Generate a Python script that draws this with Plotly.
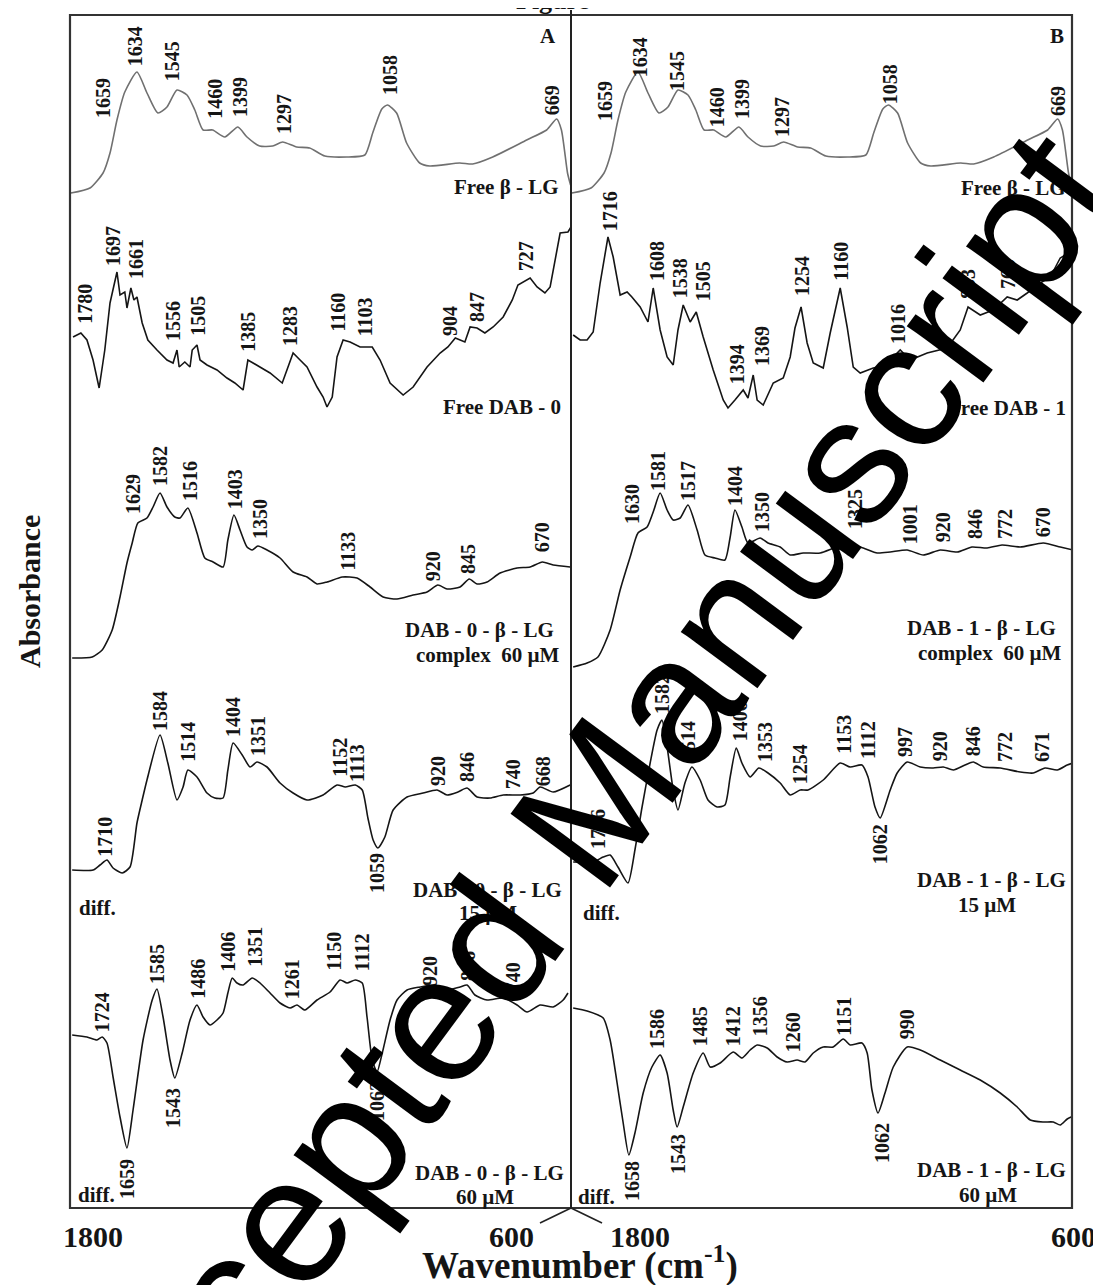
import plotly.graph_objects as go

SERIF = "Liberation Serif"
INK = "#151515"

# ---------------- spectra: wavenumber (cm-1) and absorbance (a.u. above each trace's baseline)
lg_wn = [1786, 1742, 1712, 1696, 1680, 1662, 1634, 1611, 1586, 1565, 1542, 1519, 1501, 1482,
         1460, 1432, 1402, 1381, 1352, 1322, 1299, 1267, 1237, 1202, 1152, 1110, 1092, 1071,
         1058, 1037, 1014, 984, 961, 892, 862, 816, 738, 692, 669, 658, 644, 637]
lg_ab = [0.07, 0.12, 0.27, 0.47, 0.80, 1.08, 1.28, 1.07, 0.87, 0.93, 1.10, 1.05, 0.90, 0.70,
         0.70, 0.63, 0.73, 0.63, 0.54, 0.54, 0.58, 0.53, 0.52, 0.44, 0.43, 0.45, 0.67, 0.91,
         0.95, 0.87, 0.57, 0.37, 0.34, 0.37, 0.36, 0.43, 0.60, 0.70, 0.81, 0.70, 0.27, 0.15]

dab0_wn = [1781, 1763, 1749, 1735, 1721, 1708, 1696, 1680, 1673, 1662, 1657, 1648, 1641, 1634,
           1622, 1609, 1588, 1565, 1551, 1542, 1537, 1524, 1512, 1507, 1496, 1489, 1473, 1450,
           1427, 1409, 1390, 1379, 1367, 1351, 1328, 1300, 1275, 1259, 1243, 1220, 1206, 1197,
           1185, 1174, 1160, 1144, 1121, 1093, 1075, 1052, 1022, 999, 967, 937, 919, 902, 880,
           868, 852, 834, 815, 792, 771, 758, 730, 714, 696, 684, 668, 661, 643, 636]
dab0_ab = [0.63, 0.67, 0.60, 0.40, 0.12, 0.50, 0.97, 1.28, 1.05, 1.08, 0.92, 1.12, 1.00, 1.03,
           0.77, 0.60, 0.50, 0.40, 0.37, 0.50, 0.33, 0.38, 0.33, 0.50, 0.55, 0.40, 0.35, 0.30,
           0.22, 0.17, 0.10, 0.40, 0.37, 0.33, 0.27, 0.17, 0.47, 0.40, 0.33, 0.13, 0.03, -0.07,
           0.03, 0.43, 0.60, 0.58, 0.53, 0.53, 0.40, 0.17, 0.05, 0.13, 0.33, 0.47, 0.53, 0.62, 0.58,
           0.73, 0.72, 0.67, 0.73, 0.83, 1.00, 1.15, 1.22, 1.13, 1.07, 1.13, 1.53, 1.67, 1.68, 1.73]

dab1_wn = [1783, 1767, 1751, 1737, 1721, 1703, 1691, 1675, 1659, 1648, 1629, 1611, 1599, 1583,
           1567, 1553, 1542, 1530, 1514, 1500, 1484, 1461, 1438, 1427, 1411, 1392, 1381, 1369,
           1360, 1346, 1323, 1300, 1284, 1273, 1259, 1245, 1231, 1208, 1192, 1169, 1153, 1139,
           1123, 1093, 1061, 1047, 1031, 1008, 969, 923, 893, 875, 847, 817, 785, 762, 739, 709,
           686, 663, 640]
dab1_ab = [0.65, 0.60, 0.60, 0.68, 1.17, 1.63, 1.43, 1.05, 1.08, 1.03, 0.93, 0.78, 1.12, 0.70,
           0.43, 0.35, 0.70, 0.95, 0.78, 0.88, 0.63, 0.30, 0.00, -0.08, 0.00, 0.10, 0.02, 0.25,
           0.00, -0.05, 0.17, 0.22, 0.43, 0.72, 0.93, 0.57, 0.37, 0.32, 0.67, 1.12, 0.73, 0.33,
           0.27, 0.32, 0.35, 0.43, 0.50, 0.40, 0.47, 0.52, 0.70, 0.93, 0.85, 0.90, 1.03, 1.00, 1.07,
           1.17, 1.23, 1.42, 1.48]

cx0_wn = [1783, 1737, 1714, 1691, 1673, 1657, 1645, 1632, 1611, 1597, 1581, 1565, 1547, 1535,
          1517, 1496, 1478, 1459, 1436, 1425, 1411, 1397, 1381, 1369, 1356, 1335, 1305, 1275,
          1243, 1220, 1197, 1162, 1128, 1098, 1068, 1036, 999, 967, 942, 921, 891, 870, 852, 829,
          799, 760, 730, 702, 677, 638]
cx0_ab = [0.02, 0.03, 0.10, 0.30, 0.63, 0.97, 1.17, 1.37, 1.42, 1.53, 1.67, 1.53, 1.43, 1.42,
          1.52, 1.27, 1.02, 0.98, 0.93, 1.20, 1.45, 1.30, 1.13, 1.10, 1.14, 1.10, 1.02, 0.88,
          0.83, 0.76, 0.78, 0.83, 0.82, 0.73, 0.63, 0.61, 0.65, 0.68, 0.75, 0.71, 0.73, 0.81, 0.76,
          0.78, 0.87, 0.92, 0.93, 0.98, 0.95, 0.93]

cx1_wn = [1783, 1751, 1726, 1698, 1675, 1652, 1634, 1613, 1599, 1583, 1567, 1553, 1537, 1519,
          1498, 1480, 1457, 1434, 1422, 1411, 1395, 1381, 1353, 1335, 1307, 1284, 1254, 1215,
          1176, 1146, 1116, 1084, 1054, 1015, 978, 939, 900, 866, 831, 797, 755, 702, 663, 633]
cx1_ab = [-0.07, -0.03, 0.03, 0.30, 0.70, 1.03, 1.27, 1.33, 1.48, 1.67, 1.50, 1.40, 1.42, 1.55,
          1.30, 1.05, 1.02, 1.00, 1.23, 1.50, 1.33, 1.17, 1.22, 1.17, 1.13, 1.05, 1.07, 1.07,
          1.13, 1.15, 1.12, 1.07, 1.08, 1.10, 1.05, 1.10, 1.08, 1.13, 1.12, 1.15, 1.13, 1.17,
          1.13, 1.10]

d15a_wn = [1783, 1735, 1719, 1703, 1689, 1668, 1650, 1634, 1622, 1611, 1581, 1563, 1542, 1528,
           1517, 1496, 1473, 1455, 1436, 1425, 1413, 1392, 1374, 1358, 1335, 1305, 1275, 1243,
           1206, 1174, 1155, 1132, 1116, 1103, 1091, 1080, 1064, 1045, 1013, 976, 944, 921, 896,
           875, 852, 822, 792, 753, 723, 707, 677, 638]
d15a_ab = [0.30, 0.30, 0.35, 0.40, 0.32, 0.27, 0.33, 0.77, 1.00, 1.20, 1.65, 1.37, 1.00, 1.13,
           1.30, 1.23, 1.07, 1.02, 1.02, 1.30, 1.57, 1.45, 1.33, 1.38, 1.33, 1.17, 1.07, 1.00,
           1.05, 1.15, 1.13, 1.15, 1.10, 0.82, 0.60, 0.52, 0.63, 0.90, 1.03, 1.07, 1.10, 1.05, 1.08,
           1.12, 1.03, 1.02, 1.05, 1.05, 1.07, 1.13, 1.08, 1.15]

d15b_wn = [1783, 1737, 1714, 1698, 1680, 1657, 1641, 1625, 1606, 1590, 1579, 1567, 1553, 1542,
           1526, 1510, 1491, 1473, 1452, 1434, 1422, 1408, 1395, 1376, 1356, 1335, 1307, 1284,
           1261, 1243, 1208, 1169, 1146, 1119, 1105, 1089, 1077, 1054, 1038, 1015, 985, 955, 932,
           909, 882, 863, 840, 801, 755, 725, 698, 670, 647, 633]
d15b_ab = [0.38, 0.38, 0.43, 0.45, 0.33, 0.17, 0.50, 0.92, 1.37, 1.70, 1.80, 1.53, 1.10, 0.90,
           1.17, 1.33, 1.20, 1.00, 0.93, 0.95, 1.23, 1.52, 1.37, 1.23, 1.32, 1.27, 1.17, 1.05,
           1.10, 1.10, 1.20, 1.37, 1.33, 1.35, 1.23, 0.93, 0.82, 1.10, 1.27, 1.38, 1.33, 1.32, 1.33,
           1.30, 1.35, 1.38, 1.33, 1.32, 1.28, 1.27, 1.32, 1.30, 1.35, 1.37]

d60a_wn = [1783, 1749, 1726, 1714, 1703, 1689, 1673, 1657, 1643, 1620, 1599, 1588, 1574, 1558,
           1547, 1530, 1512, 1496, 1482, 1466, 1450, 1436, 1425, 1415, 1404, 1390, 1369, 1351,
           1328, 1305, 1282, 1266, 1248, 1220, 1190, 1167, 1151, 1132, 1116, 1105, 1093, 1082,
           1070, 1052, 1036, 1013, 983, 953, 921, 891, 875, 857, 829, 792, 760, 737, 707, 677, 654, 643]
d60a_ab = [1.45, 1.43, 1.40, 1.43, 1.37, 1.03, 0.63, 0.32, 0.70, 1.40, 1.80, 1.91, 1.63, 1.20,
           1.02, 1.27, 1.60, 1.75, 1.63, 1.55, 1.60, 1.67, 1.87, 2.02, 1.97, 1.95, 2.02, 1.97,
           1.87, 1.77, 1.72, 1.75, 1.70, 1.80, 1.88, 2.00, 1.97, 2.00, 1.97, 1.63, 1.20, 1.08,
           1.27, 1.60, 1.80, 1.90, 1.93, 1.95, 1.90, 1.93, 1.95, 1.85, 1.80, 1.82, 1.75, 1.68, 1.75,
           1.73, 1.80, 1.87]

d60b_wn = [1783, 1751, 1714, 1698, 1682, 1668, 1655, 1641, 1622, 1602, 1583, 1567, 1553, 1544,
           1530, 1507, 1484, 1468, 1445, 1415, 1395, 1376, 1360, 1337, 1314, 1291, 1268, 1250,
           1231, 1208, 1185, 1162, 1146, 1119, 1107, 1096, 1082, 1066, 1047, 1015, 985, 939, 893,
           847, 801, 762, 732, 702, 679, 663, 647, 633]
d60b_ab = [1.72, 1.69, 1.62, 1.40, 0.97, 0.57, 0.25, 0.47, 0.87, 1.13, 1.25, 1.07, 0.70, 0.53,
           0.73, 1.07, 1.27, 1.13, 1.17, 1.28, 1.22, 1.30, 1.35, 1.32, 1.23, 1.18, 1.20, 1.18,
           1.27, 1.33, 1.33, 1.41, 1.35, 1.37, 1.27, 0.90, 0.67, 0.87, 1.13, 1.33, 1.30, 1.20, 1.10,
           1.00, 0.87, 0.73, 0.60, 0.58, 0.58, 0.55, 0.61, 0.64]

# ---------------- peak labels (text, wavenumber position, absorbance position); "up" above, "dn" below
lgA_up = [("1659", 1712, 0.81), ("1634", 1638, 1.33), ("1545", 1553, 1.18), ("1460", 1455, 0.80),
          ("1399", 1397, 0.82), ("1297", 1296, 0.65), ("1058", 1052, 1.04), ("669", 679, 0.84)]
lgB_up = [("1659", 1710, 0.78), ("1634", 1629, 1.22), ("1545", 1544, 1.08), ("1460", 1452, 0.72),
          ("1399", 1395, 0.80), ("1297", 1303, 0.62), ("1058", 1054, 0.95), ("669", 668, 0.83)]
dab0_up = [("1780", 1754, 0.75), ("1697", 1689, 1.33), ("1661", 1636, 1.20), ("1556", 1551, 0.58),
           ("1505", 1494, 0.63), ("1385", 1379, 0.47), ("1283", 1282, 0.53), ("1160", 1174, 0.67),
           ("1103", 1110, 0.63), ("904", 914, 0.63), ("847", 852, 0.77), ("727", 739, 1.28)]
dab1_up = [("1716", 1698, 1.68), ("1608", 1590, 1.18), ("1538", 1537, 1.01), ("1505", 1484, 0.98),
           ("1394", 1406, 0.15), ("1369", 1349, 0.33), ("1254", 1257, 1.03), ("1160", 1169, 1.18),
           ("1016", 1036, 0.55), ("853", 875, 1.00), ("760", 783, 1.10)]
cx0_up = [("1629", 1643, 1.45), ("1582", 1581, 1.73), ("1516", 1512, 1.58), ("1403", 1408, 1.50),
          ("1350", 1351, 1.20), ("1133", 1151, 0.88), ("920", 953, 0.78), ("845", 873, 0.85),
          ("670", 702, 1.07)]
cx1_up = [("1630", 1648, 1.35), ("1581", 1588, 1.68), ("1517", 1519, 1.58), ("1404", 1411, 1.53),
          ("1350", 1349, 1.27), ("1325", 1135, 1.30), ("1001", 1008, 1.15), ("920", 932, 1.17),
          ("846", 859, 1.20), ("772", 790, 1.20), ("670", 702, 1.22)]
d15a_up = [("1710", 1708, 0.42), ("1584", 1581, 1.68), ("1514", 1517, 1.37), ("1404", 1413, 1.62),
           ("1351", 1356, 1.43), ("1152", 1169, 1.22), ("1113", 1128, 1.17), ("920", 942, 1.13),
           ("846", 875, 1.17), ("740", 769, 1.10), ("668", 700, 1.13)]
d15a_dn = [("1059", 1082, 0.48)]
d15b_up = [("1716", 1726, 0.50), ("1582", 1579, 1.85), ("1514", 1519, 1.38), ("1406", 1399, 1.58),
           ("1353", 1342, 1.37), ("1254", 1261, 1.15), ("1153", 1162, 1.45), ("1112", 1105, 1.40),
           ("997", 1020, 1.42), ("920", 939, 1.38), ("846", 863, 1.43), ("772", 790, 1.37),
           ("671", 705, 1.37)]
d15b_dn = [("1062", 1077, 0.77)]
d60a_up = [("1724", 1714, 1.47), ("1585", 1588, 1.95), ("1486", 1494, 1.80), ("1406", 1425, 2.07),
           ("1351", 1363, 2.12), ("1261", 1277, 1.80), ("1150", 1183, 2.08), ("1112", 1116, 2.08),
           ("920", 960, 1.93), ("846", 873, 1.98), ("740", 769, 1.87)]
d60a_dn = [("1659", 1657, 0.22), ("1543", 1551, 0.93), ("1062", 1082, 1.00)]
d60b_up = [("1586", 1590, 1.30), ("1485", 1491, 1.33), ("1412", 1415, 1.33), ("1356", 1353, 1.43),
           ("1260", 1277, 1.27), ("1151", 1162, 1.43), ("990", 1015, 1.40)]
d60b_dn = [("1658", 1648, 0.20), ("1543", 1542, 0.47), ("1062", 1073, 0.58)]

# ---------------- texts
names_A = ["Free \u03b2 - LG", "Free DAB - 0", "DAB - 0 - \u03b2 - LG", "DAB - 0 - \u03b2 - LG", "DAB - 0 - \u03b2 - LG"]
names_B = ["Free \u03b2 - LG", "Free DAB - 1", "DAB - 1 - \u03b2 - LG", "DAB - 1 - \u03b2 - LG", "DAB - 1 - \u03b2 - LG"]
subnames = ["", "", "complex  60 \u00b5M", "15 \u00b5M", "60 \u00b5M"]
panel_letters = ["A", "B"]
tick_labels = ["1800", "600"]
x_title = "Wavenumber (cm<sup>-1</sup>)"
y_title = "Absorbance"
watermark = "Accepted Manuscript"

# stacking offsets of the five rows (a.u.)
row_offset = [10.08, 8.08, 5.48, 3.08, 0.28]

# ---------------- geometry (page pixels; the page body has an 8 px margin)
M0 = 8
W, H = 1101 - M0, 1285 - M0
FX0, FX1, FXM, FY0, FY1 = 70, 1072, 571, 15, 1208
px = lambda v: (v - M0) / W
py = lambda v: 1 - (v - M0) / H

fig = go.Figure()

panelA = [(lg_wn, lg_ab, "#707070", "spline", lgA_up, []),
          (dab0_wn, dab0_ab, INK, "linear", dab0_up, []),
          (cx0_wn, cx0_ab, INK, "spline", cx0_up, []),
          (d15a_wn, d15a_ab, INK, "spline", d15a_up, d15a_dn),
          (d60a_wn, d60a_ab, INK, "spline", d60a_up, d60a_dn)]
panelB = [(lg_wn, lg_ab, "#707070", "spline", lgB_up, []),
          (dab1_wn, dab1_ab, INK, "linear", dab1_up, []),
          (cx1_wn, cx1_ab, INK, "spline", cx1_up, []),
          (d15b_wn, d15b_ab, INK, "spline", d15b_up, d15b_dn),
          (d60b_wn, d60b_ab, INK, "spline", d60b_up, d60b_dn)]

annotations = []
lab_font = dict(family=SERIF, size=20, color=INK, weight="bold")
name_font = dict(family=SERIF, size=21, color=INK, weight="bold")

for xa, rows in (("x", panelA), ("x2", panelB)):
    for r, (wn, ab, col, shape, up, dn) in enumerate(rows):
        off = row_offset[r]
        fig.add_trace(go.Scatter(
            x=wn, y=[off + a for a in ab], mode="lines", xaxis=xa, yaxis="y",
            line=dict(color=col, width=1.6, shape=shape, smoothing=0.6),
            showlegend=False, hoverinfo="skip"))
        for t, w, a in up:
            annotations.append(dict(x=w, y=off + a, xref=xa, yref="y", text=t, textangle=-90,
                                    showarrow=False, xanchor="center", yanchor="bottom",
                                    borderpad=0, font=lab_font))
        for t, w, a in dn:
            annotations.append(dict(x=w, y=off + a, xref=xa, yref="y", text=t, textangle=-90,
                                    showarrow=False, xanchor="center", yanchor="top",
                                    borderpad=0, font=lab_font))

# sample names (positions in page pixels)
name_pos_A = [(560, 187), (562, 407), (555, 630), (563, 890), (565, 1173)]
name_pos_B = [(1067, 188), (1067, 408), (1057, 628), (1067, 880), (1067, 1170)]
sub_pos_A = [None, None, (560, 655, "right"), (488, 913, "center"), (485, 1197, "center")]
sub_pos_B = [None, None, (1062, 653, "right"), (987, 905, "center"), (988, 1195, "center")]
for names, npos, spos in ((names_A, name_pos_A, sub_pos_A), (names_B, name_pos_B, sub_pos_B)):
    for r in range(5):
        annotations.append(dict(x=px(npos[r][0]), y=py(npos[r][1]), xref="paper", yref="paper",
                                text=names[r], showarrow=False, xanchor="right", yanchor="middle",
                                borderpad=0, font=name_font))
        if spos[r]:
            annotations.append(dict(x=px(spos[r][0]), y=py(spos[r][1]), xref="paper", yref="paper",
                                    text=subnames[r], showarrow=False, xanchor=spos[r][2],
                                    yanchor="middle", borderpad=0, font=name_font))

# "diff." marks
for x0, y0 in ((78, 908), (582, 913), (77, 1195), (577, 1197)):
    annotations.append(dict(x=px(x0), y=py(y0), xref="paper", yref="paper", text="diff.",
                            showarrow=False, xanchor="left", yanchor="middle", borderpad=0,
                            font=name_font))

# panel letters
for t, x0 in zip(panel_letters, (548, 1057)):
    annotations.append(dict(x=px(x0), y=py(36), xref="paper", yref="paper", text=t,
                            showarrow=False, xanchor="center", yanchor="middle", font=name_font))

# wavenumber end labels
tick_font = dict(family=SERIF, size=30, color=INK, weight="bold")
for (t, x0) in zip(tick_labels * 2, (93, 511, 640, 1073)):
    annotations.append(dict(x=px(x0), y=py(1236), xref="paper", yref="paper", text=t,
                            showarrow=False, xanchor="center", yanchor="middle", font=tick_font))

annotations.append(dict(x=px(580), y=py(1263), xref="paper", yref="paper", text=x_title,
                        showarrow=False, xanchor="center", yanchor="middle",
                        font=dict(family=SERIF, size=37, color=INK, weight="bold")))
annotations.append(dict(x=px(29), y=py(592), xref="paper", yref="paper", text=y_title,
                        textangle=-90, showarrow=False, xanchor="center", yanchor="middle",
                        font=dict(family=SERIF, size=30, color=INK, weight="bold")))
# clipped heading at the very top
annotations.append(dict(x=px(552), y=py(16), xref="paper", yref="paper", text="Figure",
                        showarrow=False, xanchor="center", yanchor="bottom", borderpad=0,
                        font=dict(family=SERIF, size=26, color=INK, weight="bold")))
# watermark
annotations.append(dict(x=px(574), y=py(830), xref="paper", yref="paper", text=watermark,
                        textangle=-53.5, showarrow=False, xanchor="center", yanchor="middle",
                        font=dict(family="Liberation Sans", size=180, color="black")))

shapes = [
    dict(type="rect", xref="paper", yref="paper", x0=px(FX0), x1=px(FX1), y0=py(FY1), y1=py(FY0),
         line=dict(color="#333", width=2.2)),
    dict(type="line", xref="paper", yref="paper", x0=px(FXM), x1=px(FXM), y0=py(FY1), y1=py(10),
         line=dict(color="#222", width=2)),
    dict(type="line", xref="paper", yref="paper", x0=px(FXM), x1=px(540), y0=py(FY1), y1=py(1223),
         line=dict(color="#222", width=1.6)),
    dict(type="line", xref="paper", yref="paper", x0=px(FXM), x1=px(602), y0=py(FY1), y1=py(1223),
         line=dict(color="#222", width=1.6)),
]

axis_common = dict(visible=False, range=[1788, 636], showgrid=False, zeroline=False)
fig.update_layout(
    width=W, height=H, margin=dict(l=0, r=0, t=0, b=0),
    paper_bgcolor="white", plot_bgcolor="white",
    xaxis=dict(domain=[px(FX0), px(FXM)], anchor="y", **axis_common),
    xaxis2=dict(domain=[px(FXM), px(FX1)], anchor="y", **axis_common),
    yaxis=dict(domain=[py(FY1), py(FY0)], range=[0, (FY1 - FY0) / 100], visible=False,
               showgrid=False, zeroline=False),
    annotations=annotations, shapes=shapes, showlegend=False,
)

fig.write_html("out.html")
